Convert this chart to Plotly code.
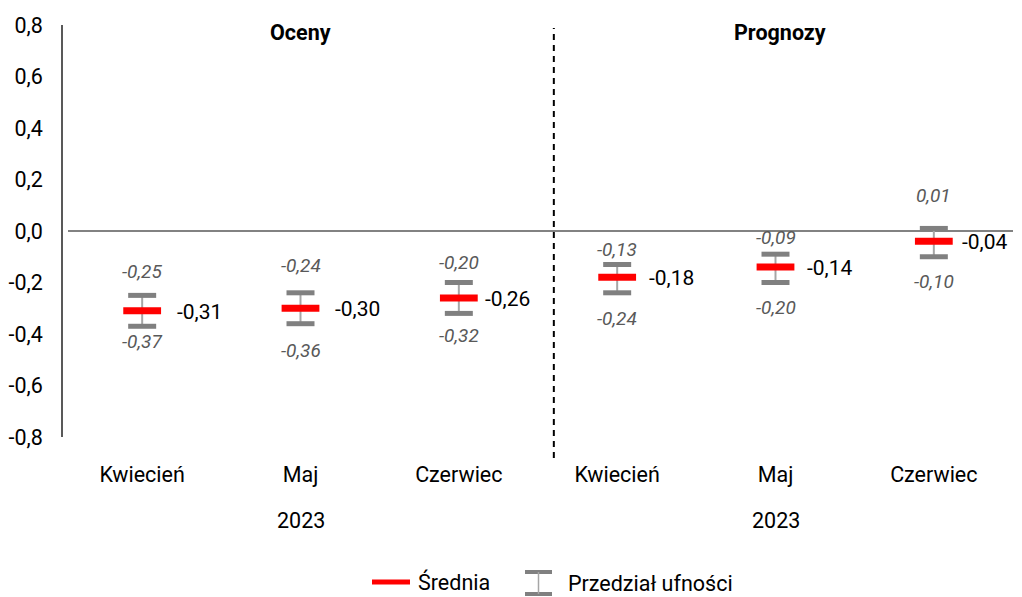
import plotly.graph_objects as go

months = ["Kwiecień", "Maj", "Czerwiec", "Kwiecień", "Maj", "Czerwiec"]
mean_vals = [-0.31, -0.30, -0.26, -0.18, -0.14, -0.04]
lower_vals = [-0.37, -0.36, -0.32, -0.24, -0.20, -0.10]
upper_vals = [-0.25, -0.24, -0.20, -0.13, -0.09, 0.01]
y_ticks = [-0.8, -0.6, -0.4, -0.2, 0.0, 0.2, 0.4, 0.6, 0.8]
section_titles = ["Oceny", "Prognozy"]
year_label = "2023"
legend_names = ["Średnia", "Przedział ufności"]

# label pixel offsets (style only)
upper_shift = [24, 27, 20, 15, 17, 33]
lower_shift = [15, 27, 22, 26, 25, 25]
mean_xshift = [33, 32, 24, 30, 29, 26]

FONT = "Roboto"
FS = 21.5
xs = list(range(len(months)))


def fmt(v):
    return f"{v:.2f}".replace(".", ",")


def fmt1(v):
    return f"{v:.1f}".replace(".", ",")


fig = go.Figure()

# stems
fig.add_trace(go.Scatter(
    x=xs, y=lower_vals, mode="markers", marker=dict(size=0.1, color="rgba(0,0,0,0)"),
    error_y=dict(type="data", symmetric=False,
                 array=[u - l for u, l in zip(upper_vals, lower_vals)],
                 arrayminus=[0] * len(xs), color="#A6A6A6", thickness=2, width=0),
    showlegend=False, hoverinfo="skip"))
# caps
for arr in (upper_vals, lower_vals):
    fig.add_trace(go.Scatter(
        x=xs, y=arr, mode="markers",
        marker=dict(symbol="line-ew", size=20, line=dict(color="#808080", width=5)),
        showlegend=False, hoverinfo="skip"))
# mean
fig.add_trace(go.Scatter(
    x=xs, y=mean_vals, mode="markers",
    marker=dict(symbol="line-ew", size=27, line=dict(color="#FF0000", width=7)),
    showlegend=False, hoverinfo="skip"))

ann = []
for i, x in enumerate(xs):
    ann.append(dict(x=x, y=upper_vals[i], xref="x", yref="y", text=fmt(upper_vals[i]),
                    showarrow=False, yshift=upper_shift[i],
                    font=dict(family=FONT, size=19, color="#595959", style="italic")))
    ann.append(dict(x=x, y=lower_vals[i], xref="x", yref="y", text=fmt(lower_vals[i]),
                    showarrow=False, yshift=-lower_shift[i],
                    font=dict(family=FONT, size=19, color="#595959", style="italic")))
    ann.append(dict(x=x, y=mean_vals[i], xref="x", yref="y", text=fmt(mean_vals[i]),
                    showarrow=False, xanchor="left", xshift=mean_xshift[i], yshift=-1,
                    font=dict(family=FONT, size=21, color="#000000")))

# section titles
ann.append(dict(x=1, y=1.0, xref="x", yref="paper", text=f"<b>{section_titles[0]}</b>",
                showarrow=False, yanchor="middle", yshift=-7,
                font=dict(family=FONT, size=FS, color="#000000")))
ann.append(dict(x=4.03, y=1.0, xref="x", yref="paper", text=f"<b>{section_titles[1]}</b>",
                showarrow=False, yanchor="middle", yshift=-7,
                font=dict(family=FONT, size=FS, color="#000000")))
# year labels
for xc in (1, 4):
    ann.append(dict(x=xc, y=0, xref="x", yref="paper", text=year_label, showarrow=False,
                    yanchor="middle", yshift=-83,
                    font=dict(family=FONT, size=FS, color="#000000")))

shapes = []
# zero line
shapes.append(dict(type="line", xref="paper", yref="y", x0=5 / 950, x1=1, y0=0, y1=0,
                   line=dict(color="#595959", width=1.5), layer="below"))
# legend (manual)
shapes.append(dict(type="line", xref="paper", yref="paper",
                   x0=(372 - 63) / 950, x1=(410 - 63) / 950,
                   y0=-(582 - 437) / 412, y1=-(582 - 437) / 412,
                   line=dict(color="#FF0000", width=5)))
ann.append(dict(x=(416 - 63) / 950, y=-(582 - 437) / 412, xref="paper", yref="paper",
                text=legend_names[0], showarrow=False, xanchor="left", yanchor="middle",
                font=dict(family=FONT, size=FS, color="#000000")))
cx = (538.5 - 63) / 950
for yy in (572, 594):
    shapes.append(dict(type="line", xref="paper", yref="paper",
                       x0=(525 - 63) / 950, x1=(552 - 63) / 950,
                       y0=-(yy - 437) / 412, y1=-(yy - 437) / 412,
                       line=dict(color="#808080", width=4)))
shapes.append(dict(type="line", xref="paper", yref="paper", x0=cx, x1=cx,
                   y0=-(572 - 437) / 412, y1=-(594 - 437) / 412,
                   line=dict(color="#A6A6A6", width=1.5)))
ann.append(dict(x=(566 - 63) / 950, y=-(583 - 437) / 412, xref="paper", yref="paper",
                text=legend_names[1], showarrow=False, xanchor="left", yanchor="middle",
                font=dict(family=FONT, size=FS, color="#000000")))

# dashed divider
shapes.append(dict(type="line", xref="x", yref="paper", x0=2.6, x1=2.6,
                   y0=-(458 - 437) / 412, y1=(437 - 28) / 412,
                   line=dict(color="#000000", width=2, dash="6px,5px")))

fig.update_layout(
    width=1022, height=597,
    margin=dict(l=63, r=9, t=25, b=160),
    paper_bgcolor="white", plot_bgcolor="white",
    showlegend=False,
    annotations=ann, shapes=shapes,
    font=dict(family=FONT, size=FS, color="#000000"),
    xaxis=dict(range=[-0.5, 5.5], tickmode="array", tickvals=xs, ticktext=months,
               showgrid=False, zeroline=False, showline=False, ticks="",
               ticklabelstandoff=22, tickfont=dict(family=FONT, size=FS, color="#000000")),
    yaxis=dict(range=[-0.8, 0.8], tickmode="array", tickvals=y_ticks,
               ticktext=[fmt1(v) for v in y_ticks], showgrid=False,
               zeroline=False,
               showline=True, linecolor="#595959", linewidth=1.5, ticks="",
               ticklabelstandoff=14, tickfont=dict(family=FONT, size=FS, color="#000000")),
)

fig.write_html("out.html", config={"displayModeBar": False},
               post_script="document.body.style.margin='0';document.body.style.overflow='hidden';")
